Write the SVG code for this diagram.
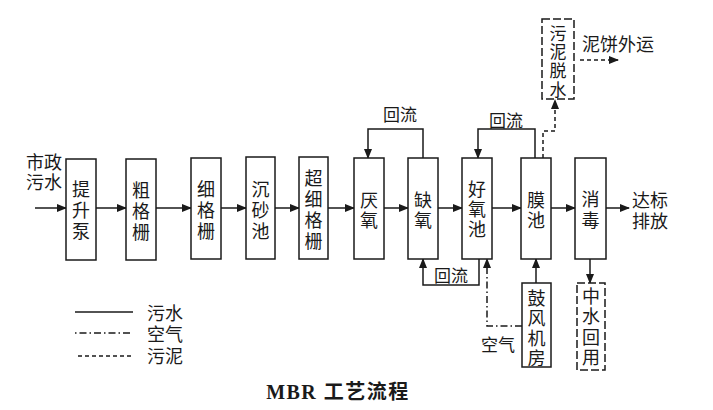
<svg xmlns="http://www.w3.org/2000/svg" width="713" height="410" viewBox="0 0 713 410">
<style>
.box{fill:#fff;stroke:#1a1a1a;stroke-width:1.5}
.dbox{fill:#fff;stroke:#1a1a1a;stroke-width:1.5;stroke-dasharray:8,3}
.ln{fill:none;stroke:#1a1a1a;stroke-width:1.5}
.air{fill:none;stroke:#1a1a1a;stroke-width:1.5;stroke-dasharray:7,3,1.5,3}
.sl{fill:none;stroke:#1a1a1a;stroke-width:1.5;stroke-dasharray:4,3}
text{font-family:"Noto Sans CJK SC","Liberation Sans",sans-serif;font-size:18px;fill:#1a1a1a;text-anchor:middle;dominant-baseline:central}
.lbl{font-size:17px}
.lft{text-anchor:start}
.title{font-family:"Liberation Serif","Noto Sans CJK SC",serif;font-weight:bold;font-size:20px;letter-spacing:1.5px}
</style>
<defs>
<marker id="ar" markerWidth="10" markerHeight="8" refX="9" refY="4" orient="auto" markerUnits="userSpaceOnUse">
<path d="M0,0 L10,4 L0,8 Z" fill="#1a1a1a"/>
</marker>
</defs>
<g id="connectors">
<line class="ln" x1="35" y1="208" x2="66" y2="208" marker-end="url(#ar)"/>
<line class="ln" x1="96" y1="208" x2="126" y2="208" marker-end="url(#ar)"/>
<line class="ln" x1="156" y1="208" x2="191" y2="208" marker-end="url(#ar)"/>
<line class="ln" x1="221" y1="208" x2="246" y2="208" marker-end="url(#ar)"/>
<line class="ln" x1="275" y1="208" x2="299" y2="208" marker-end="url(#ar)"/>
<line class="ln" x1="328" y1="208" x2="354" y2="208" marker-end="url(#ar)"/>
<line class="ln" x1="384" y1="208" x2="408" y2="208" marker-end="url(#ar)"/>
<line class="ln" x1="438" y1="208" x2="462" y2="208" marker-end="url(#ar)"/>
<line class="ln" x1="492" y1="208" x2="521" y2="208" marker-end="url(#ar)"/>
<line class="ln" x1="551" y1="208" x2="575" y2="208" marker-end="url(#ar)"/>
<line class="ln" x1="606" y1="208" x2="629" y2="208" marker-end="url(#ar)"/>
<polyline class="ln" points="423,158 423,129 368,129 368,158" marker-end="url(#ar)"/>
<polyline class="ln" points="535,158 535,129 478,129 478,158" marker-end="url(#ar)"/>
<polyline class="ln" points="479,259 479,285 423,285 423,259" marker-end="url(#ar)"/>
<polyline class="air" points="522,326 487,326 487,259" marker-end="url(#ar)"/>
<line class="ln" x1="536" y1="283" x2="536" y2="259" marker-end="url(#ar)"/>
<line class="ln" x1="590" y1="259" x2="590" y2="283" marker-end="url(#ar)"/>
<polyline class="sl" points="543,158 543,131 555,131 555,100" marker-end="url(#ar)"/>
<line class="sl" x1="580" y1="60" x2="618" y2="60" marker-end="url(#ar)"/>
</g>
<g id="n-tisheng"><rect class="box" x="66" y="159" width="30" height="101"/><text x="81" y="188">提</text><text x="81" y="209">升</text><text x="81" y="230">泵</text></g>
<g id="n-cugeshan"><rect class="box" x="126" y="159" width="30" height="101"/><text x="141" y="189">粗</text><text x="141" y="210">格</text><text x="141" y="231">栅</text></g>
<g id="n-xigeshan"><rect class="box" x="191" y="158" width="30" height="101"/><text x="206" y="188">细</text><text x="206" y="209">格</text><text x="206" y="230">栅</text></g>
<g id="n-chensha"><rect class="box" x="246" y="157" width="29" height="102"/><text x="260.5" y="188">沉</text><text x="260.5" y="209">砂</text><text x="260.5" y="230">池</text></g>
<g id="n-chaoxi"><rect class="box" x="299" y="157" width="29" height="102"/><text x="313.5" y="177">超</text><text x="313.5" y="198">细</text><text x="313.5" y="219">格</text><text x="313.5" y="240">栅</text></g>
<g id="n-yanyang"><rect class="box" x="354" y="158" width="30" height="101"/><text x="369" y="199">厌</text><text x="369" y="219">氧</text></g>
<g id="n-queyang"><rect class="box" x="408" y="158" width="30" height="101"/><text x="423" y="199">缺</text><text x="423" y="219">氧</text></g>
<g id="n-haoyang"><rect class="box" x="462" y="158" width="30" height="101"/><text x="477" y="188">好</text><text x="477" y="208">氧</text><text x="477" y="228">池</text></g>
<g id="n-mochi"><rect class="box" x="521" y="158" width="30" height="101"/><text x="536" y="199">膜</text><text x="536" y="219">池</text></g>
<g id="n-xiaodu"><rect class="box" x="575" y="158" width="31" height="101"/><text x="590.5" y="198">消</text><text x="590.5" y="219">毒</text></g>
<g id="n-wuni"><rect class="dbox" x="542" y="19" width="32" height="80"/><text class="lbl" x="558" y="32">污</text><text class="lbl" x="558" y="50">泥</text><text class="lbl" x="558" y="69">脱</text><text class="lbl" x="558" y="88">水</text></g>
<g id="n-gufeng"><rect class="box" x="522" y="283" width="29" height="84"/><text x="536.5" y="297">鼓</text><text x="536.5" y="317">风</text><text x="536.5" y="337">机</text><text x="536.5" y="357">房</text></g>
<g id="n-zhongshui"><rect class="dbox" x="577" y="283" width="28" height="87"/><text x="591" y="295">中</text><text x="591" y="315">水</text><text x="591" y="336">回</text><text x="591" y="356">用</text></g>
<g id="labels">
<text class="lft" x="26" y="161">市政</text>
<text class="lft" x="26" y="181">污水</text>
<text class="lft" x="632" y="199">达标</text>
<text class="lft" x="632" y="220">排放</text>
<text class="lft" x="582" y="43">泥饼外运</text>
<text class="lbl" x="400" y="113">回流</text>
<text class="lbl" x="506" y="119">回流</text>
<text class="lbl" x="451" y="274">回流</text>
<text class="lbl" x="498" y="343">空气</text>
</g>
<g id="legend">
<line class="ln" x1="75" y1="312" x2="133" y2="312"/>
<line class="air" x1="75" y1="333" x2="133" y2="333" style="stroke-dasharray:1.5,3,7,3"/>
<line class="sl" x1="78" y1="356" x2="133" y2="356"/>
<text class="lft" x="147" y="312">污水</text>
<text class="lft" x="147" y="333">空气</text>
<text class="lft" x="147" y="355">污泥</text>
</g>
<text class="title" x="338" y="392">MBR 工艺流程</text>
</svg>
